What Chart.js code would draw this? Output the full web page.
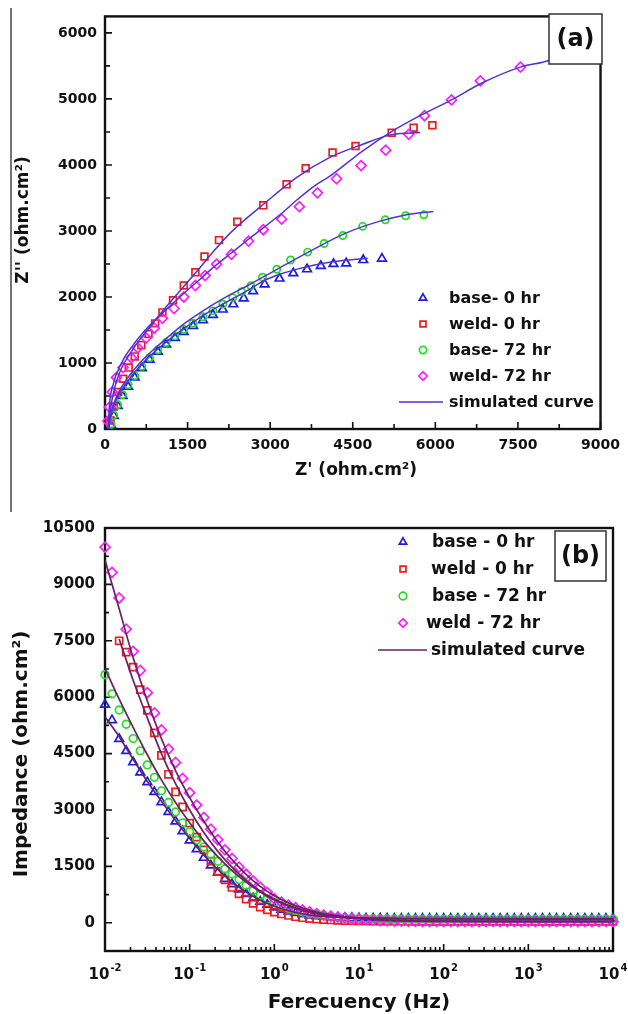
<!DOCTYPE html>
<html>
<head>
<meta charset="utf-8">
<script src="https://cdn.jsdelivr.net/npm/chart.js@4.4.1/dist/chart.umd.min.js"></script>
<style>
  html, body { margin: 0; padding: 0; background: #fff; }
  body { width: 628px; height: 1014px; position: relative; overflow: hidden; }
  canvas { position: absolute; left: 0; }
  #nyq { top: 0; }
  #bode { top: 500px; }
</style>
</head>
<body>
<canvas id="nyq" width="628" height="515"></canvas>
<canvas id="bode" width="628" height="514"></canvas>
<script>
// ---------- (a) Nyquist data: [Z', Z''] in ohm.cm² ----------
const base0Nyquist = [[110,60],[160,200],[230,350],[320,500],[420,640],[540,780],[670,920],[810,1050],[960,1170],[1110,1280],[1270,1380],[1430,1470],[1600,1560],[1780,1650],[1960,1730],[2140,1810],[2330,1890],[2520,1980],[2690,2090],[2900,2190],[3170,2280],[3420,2360],[3670,2420],[3920,2470],[4150,2500],[4380,2510],[4690,2560],[5030,2580]];
const weld0Nyquist = [[100,130],[160,340],[240,560],[330,760],[430,930],[540,1100],[660,1270],[790,1440],[910,1600],[1043,1766],[1235,1951],[1431,2174],[1641,2373],[1807,2612],[2070,2861],[2403,3139],[2875,3388],[3298,3706],[3645,3951],[4133,4189],[4550,4288],[5207,4488],[5606,4563],[5946,4601]];
const base72Nyquist = [[110,70],[160,210],[230,370],[320,520],[420,670],[540,810],[670,950],[810,1080],[960,1200],[1110,1310],[1270,1410],[1430,1510],[1600,1600],[1780,1700],[1960,1790],[2140,1890],[2320,1990],[2480,2080],[2650,2170],[2860,2300],[3120,2420],[3370,2560],[3680,2680],[3980,2810],[4320,2930],[4680,3070],[5090,3170],[5460,3230],[5790,3245]];
const weld72Nyquist = [[50,120],[80,330],[130,560],[209,781],[327,930],[477,1079],[596,1228],[746,1378],[895,1527],[1043,1676],[1252,1825],[1431,2000],[1641,2174],[1819,2324],[2027,2497],[2296,2646],[2607,2846],[2875,3019],[3208,3179],[3530,3368],[3859,3577],[4205,3791],[4652,3990],[5099,4224],[5516,4463],[5803,4746],[6293,4985],[6817,5273],[7545,5482]];

// simulated (fitted) Nyquist curves
const fitBase0Nyquist = [[70,0],[100,180],[200,440],[400,710],[700,1010],[1000,1240],[1400,1500],[1800,1730],[2200,1920],[2594,2100],[2893,2249],[3190,2348],[3489,2422],[3787,2482],[4145,2533],[4772,2587]];
const fitWeld0Nyquist = [[60,0],[90,250],[200,700],[500,1200],[800,1530],[1100,1840],[1400,2130],[1700,2420],[2000,2720],[2300,2990],[2900,3420],[3490,3816],[4085,4114],[4683,4313],[5220,4463],[5725,4490]];
const fitBase72Nyquist = [[70,0],[100,200],[200,470],[400,760],[700,1060],[1000,1290],[1400,1570],[1800,1800],[2200,2000],[2594,2174],[3190,2448],[3787,2721],[4384,2970],[4979,3145],[5457,3243],[5964,3294]];
const fitWeld72Nyquist = [[60,0],[75,300],[140,650],[300,1000],[500,1260],[800,1560],[1100,1800],[1400,2030],[1700,2250],[2000,2470],[2300,2670],[2600,2870],[3200,3260],[3500,3480],[3800,3680],[4085,3830],[4683,4214],[5220,4512],[5757,4761],[6293,4985],[6829,5234],[7545,5482],[7950,5557],[8300,5640]];

// ---------- (b) Bode impedance modulus data ----------
const freqHz = [
  0.01, 0.0121, 0.0147, 0.0178, 0.0215, 0.0261, 0.0316, 0.0383, 0.0464, 0.0562, 0.0681, 0.0825,
  0.1, 0.121, 0.147, 0.178, 0.215, 0.261, 0.316, 0.383, 0.464, 0.562, 0.681, 0.825,
  1, 1.21, 1.47, 1.78, 2.15, 2.61, 3.16, 3.83, 4.64, 5.62, 6.81, 8.25,
  10, 12.1, 14.7, 17.8, 21.5, 26.1, 31.6, 38.3, 46.4, 56.2, 68.1, 82.5,
  100, 121, 147, 178, 215, 261, 316, 383, 464, 562, 681, 825,
  1000, 1210, 1470, 1780, 2150, 2610, 3160, 3830, 4640, 5620, 6810, 8250,
  10000
];
const base0Mod = [
  5800, 5390, 4890, 4570, 4270, 4000, 3740, 3480, 3210, 2950, 2700, 2440,
  2190, 1960, 1730, 1525, 1340, 1170, 1030, 890, 770, 655, 560, 480,
  410, 350, 300, 260, 228, 200, 180, 163, 150, 140, 132, 127,
  123, 119, 116, 114, 113, 112, 111, 111, 110, 110, 110, 110,
  110, 110, 110, 110, 110, 110, 110, 110, 110, 110, 110, 110,
  110, 110, 110, 110, 110, 110, 110, 110, 110, 110, 110, 110,
  110
];
const weld0Mod = [
  null, null, 7500, 7200, 6800, 6200, 5650, 5050, 4450, 3950, 3480, 3080,
  2650, 2280, 1940, 1640, 1370, 1140, 940, 770, 630, 515, 420, 345,
  285, 235, 195, 162, 135, 114, 98, 85, 75, 67, 61, 56,
  52, 49, 47, 45, 44, 43, 42, 42, 41, 41, 40, 40,
  40, 40, 40, 40, 40, 40, 40, 40, 40, 40, 40, 40,
  40, 40, 40, 40, 40, 40, 40, 40, 40, 40, 40, 40,
  40
];
const base72Mod = [
  6600, 6090, 5660, 5280, 4900, 4575, 4200, 3870, 3510, 3200, 2950, 2660,
  2420, 2200, 2015, 1820, 1635, 1440, 1300, 1150, 1000, 860, 740, 630,
  540, 460, 390, 330, 285, 245, 212, 186, 166, 150, 138, 128,
  120, 114, 110, 107, 105, 103, 102, 101, 100, 100, 100, 100,
  100, 100, 100, 100, 100, 100, 100, 100, 100, 100, 100, 100,
  100, 100, 100, 100, 100, 100, 100, 100, 100, 100, 100, 100,
  100
];
const weld72Mod = [
  9990, 9320, 8640, 7810, 7220, 6710, 6120, 5580, 5130, 4620, 4265, 3840,
  3460, 3130, 2800, 2490, 2210, 1940, 1710, 1480, 1290, 1110, 950, 810,
  640, 550, 470, 400, 340, 290, 245, 205, 175, 150, 128, 110,
  95, 82, 71, 62, 55, 49, 44, 40, 37, 35, 33, 32,
  31, 30, 30, 30, 30, 30, 30, 30, 30, 30, 30, 30,
  30, 30, 30, 30, 30, 30, 30, 30, 30, 30, 30, 30,
  30
];

// simulated (fitted) Bode curves
const fitFreqHz = [0.01, 0.0147, 0.0215, 0.0316, 0.0464, 0.0681, 0.1, 0.147, 0.215, 0.316, 0.464, 0.681, 1, 1.47, 2.15, 3.16, 4.64, 6.81, 10, 14.7, 21.5, 31.6, 46.4, 68.1, 100, 1000, 10000];
const fitBase0Mod  = [5480, 4950, 4350, 3760, 3230, 2720, 2240, 1800, 1420, 1090, 820, 600, 440, 320, 240, 185, 155, 137, 127, 120, 116, 113, 112, 111, 110, 110, 110];
const fitWeld0Mod  = [null, 7550, 6450, 5450, 4500, 3700, 3000, 2400, 1900, 1480, 1130, 850, 630, 460, 340, 250, 185, 140, 108, 85, 70, 60, 53, 48, 45, 40, 40];
const fitBase72Mod = [6760, 5950, 5200, 4470, 3800, 3200, 2660, 2180, 1760, 1390, 1080, 820, 610, 450, 330, 245, 190, 155, 133, 120, 112, 107, 104, 102, 101, 100, 100];
const fitWeld72Mod = [9650, 8350, 7050, 5900, 4900, 4050, 3330, 2700, 2150, 1680, 1290, 970, 720, 530, 390, 285, 210, 155, 115, 88, 68, 55, 46, 40, 36, 31, 30];

// ---------- axis ticks and legend texts ----------
const nyqXTicks = [0, 1500, 3000, 4500, 6000, 7500, 9000];
const nyqYTicks = [0, 1000, 2000, 3000, 4000, 5000, 6000];
const bodeXTicks = [0.01, 0.1, 1, 10, 100, 1000, 10000];
const bodeXBase = '10';
const bodeXExponents = ['-2', '-1', '0', '1', '2', '3', '4'];
const bodeYTicks = [0, 1500, 3000, 4500, 6000, 7500, 9000, 10500];
const nyqLegend = ['base- 0 hr', 'weld- 0 hr', 'base- 72 hr', 'weld- 72 hr', 'simulated curve'];
const bodeLegend = ['base - 0 hr', 'weld - 0 hr', 'base - 72 hr', 'weld - 72 hr', 'simulated curve'];

// ---------- styling ----------
const INK = '#111111';
const BLUE = '#1c1ce6';
const RED = '#ec1c1c';
const GREEN = '#1ee01e';
const MAGENTA = '#ff1cff';
const FIT_A = '#5232d2';
const FIT_B = '#6a2165';
const FONT = '"DejaVu Sans", "Liberation Sans", sans-serif';

Chart.defaults.font.family = FONT;
Chart.defaults.font.weight = 'bold';
Chart.defaults.color = INK;

function pairPoints(pairs) { return pairs.map(([x, y]) => ({ x, y })); }
function freqPoints(freqs, vals) {
  return freqs.map((f, i) => ({ x: f, y: vals[i] })).filter(p => p.y !== null);
}
function markerSet(label, points, style, color, radius, order) {
  return {
    label, data: points, showLine: false, order,
    pointStyle: style, pointRadius: radius, pointHoverRadius: radius,
    pointBorderColor: color, borderColor: color,
    pointBackgroundColor: 'rgba(0,0,0,0)', backgroundColor: 'rgba(0,0,0,0)',
    pointBorderWidth: 1.7, clip: false
  };
}
function fitSet(label, points, color, width) {
  return {
    label, data: points, showLine: true, order: 0,
    borderColor: color, borderWidth: width, pointRadius: 0, pointHoverRadius: 0,
    cubicInterpolationMode: 'monotone', fill: false
  };
}

// hollow marker outline, same geometry as the library's point styles
function markerPath(ctx, style, x, y, r) {
  ctx.beginPath();
  if (style === 'circle') {
    ctx.arc(x, y, r, 0, Math.PI * 2);
  } else if (style === 'rect') {
    const s = r * Math.SQRT1_2;
    ctx.rect(x - s, y - s, 2 * s, 2 * s);
  } else if (style === 'rectRot') {
    ctx.moveTo(x - r, y); ctx.lineTo(x, y - r); ctx.lineTo(x + r, y); ctx.lineTo(x, y + r); ctx.closePath();
  } else if (style === 'triangle') {
    let a = 0;
    ctx.moveTo(x + Math.sin(a) * r, y - Math.cos(a) * r);
    a += 2 * Math.PI / 3; ctx.lineTo(x + Math.sin(a) * r, y - Math.cos(a) * r);
    a += 2 * Math.PI / 3; ctx.lineTo(x + Math.sin(a) * r, y - Math.cos(a) * r);
    ctx.closePath();
  }
}

function axisDecor(opts) {
  return {
    id: 'axisDecor',
    beforeDatasetsDraw(chart) {
      const { ctx, chartArea: a, scales: { x, y } } = chart;
      ctx.save();
      ctx.strokeStyle = INK;
      ctx.lineWidth = 1.6;
      ctx.beginPath();
      for (const v of opts.xMajor) { const p = x.getPixelForValue(v); ctx.moveTo(p, a.bottom); ctx.lineTo(p, a.bottom - opts.majorLen); }
      for (const v of opts.xMinor) { const p = x.getPixelForValue(v); ctx.moveTo(p, a.bottom); ctx.lineTo(p, a.bottom - opts.minorLen); }
      for (const v of opts.yMajor) { const p = y.getPixelForValue(v); ctx.moveTo(a.left, p); ctx.lineTo(a.left + opts.majorLen, p); }
      for (const v of opts.yMinor) { const p = y.getPixelForValue(v); ctx.moveTo(a.left, p); ctx.lineTo(a.left + opts.minorLen, p); }
      ctx.stroke();
      ctx.lineWidth = 2.4;
      ctx.strokeRect(a.left, a.top, a.right - a.left, a.bottom - a.top);
      if (opts.sideRule) {
        ctx.strokeStyle = '#3a3a3a';
        ctx.lineWidth = 1.4;
        ctx.beginPath();
        ctx.moveTo(opts.sideRule.x, opts.sideRule.y0);
        ctx.lineTo(opts.sideRule.x, opts.sideRule.y1);
        ctx.stroke();
      }
      ctx.restore();
    },
    afterDraw(chart) {
      const { ctx, chartArea: a, scales: { x } } = chart;
      ctx.save();
      ctx.fillStyle = INK;
      // power-of-ten tick labels with raised exponents
      if (opts.powerLabels) {
        const pl = opts.powerLabels;
        ctx.textBaseline = 'alphabetic';
        ctx.textAlign = 'left';
        pl.values.forEach((v, i) => {
          const px = x.getPixelForValue(v);
          ctx.font = 'bold ' + pl.baseSize + 'px ' + FONT;
          const wb = ctx.measureText(pl.base).width;
          ctx.font = 'bold ' + pl.expSize + 'px ' + FONT;
          const we = ctx.measureText(pl.exps[i]).width;
          const x0 = px - (wb + we + 1) / 2;
          const baseY = a.bottom + pl.offset;
          ctx.font = 'bold ' + pl.baseSize + 'px ' + FONT;
          ctx.fillText(pl.base, x0, baseY);
          ctx.font = 'bold ' + pl.expSize + 'px ' + FONT;
          ctx.fillText(pl.exps[i], x0 + wb + 1, baseY - pl.raise);
        });
      }
      ctx.textAlign = 'center';
      ctx.textBaseline = 'middle';
      ctx.font = 'bold ' + opts.titleSize + 'px ' + FONT;
      ctx.fillText(opts.xTitle.text, opts.xTitle.x, opts.xTitle.y);
      ctx.translate(opts.yTitle.x, opts.yTitle.y);
      ctx.rotate(-Math.PI / 2);
      ctx.fillText(opts.yTitle.text, 0, 0);
      ctx.restore();
    }
  };
}

function legendDecor(opts) {
  return {
    id: 'legendDecor',
    afterDatasetsDraw(chart) {
      const { ctx } = chart;
      const sets = chart.data.datasets;
      const markers = sets.filter(d => !d.showLine);
      const fit = sets.find(d => d.showLine);
      ctx.save();
      ctx.font = 'bold ' + opts.fontSize + 'px ' + FONT;
      ctx.textBaseline = 'middle';
      ctx.textAlign = 'left';
      markers.forEach((d, i) => {
        const y = opts.rows[i];
        ctx.strokeStyle = d.pointBorderColor;
        ctx.lineWidth = 1.7;
        markerPath(ctx, d.pointStyle, opts.markerX, y, Math.min(d.pointRadius, 4.2));
        ctx.stroke();
        ctx.fillStyle = INK;
        ctx.fillText(opts.labels[i], opts.textX[i], y + 1);
      });
      const ly = opts.rows[markers.length];
      ctx.strokeStyle = fit.borderColor;
      ctx.lineWidth = fit.borderWidth;
      ctx.beginPath();
      ctx.moveTo(opts.lineX0, ly);
      ctx.lineTo(opts.lineX1, ly);
      ctx.stroke();
      ctx.fillStyle = INK;
      ctx.fillText(opts.labels[markers.length], opts.textX[markers.length], ly + 1);

      // panel tag
      const t = opts.tag;
      ctx.fillStyle = '#ffffff';
      ctx.fillRect(t.x, t.y, t.w, t.h);
      ctx.strokeStyle = '#333333';
      ctx.lineWidth = 1.5;
      ctx.strokeRect(t.x, t.y, t.w, t.h);
      ctx.fillStyle = INK;
      ctx.font = 'bold ' + t.size + 'px ' + FONT;
      ctx.textAlign = 'center';
      ctx.fillText(t.text, t.x + t.w / 2, t.y + t.h / 2 + 1);
      ctx.restore();
    }
  };
}

function midpoints(vals) { return vals.slice(1).map((v, i) => (v + vals[i]) / 2); }
function logMinors(decades) {
  const out = [];
  decades.slice(0, -1).forEach(d => { for (let m = 2; m <= 9; m++) out.push(d * m); });
  return out;
}

// ---------- (a) Nyquist plot ----------
new Chart(document.getElementById('nyq'), {
  type: 'scatter',
  data: {
    datasets: [
      markerSet(nyqLegend[0], pairPoints(base0Nyquist), 'triangle', BLUE, 5, 4),
      markerSet(nyqLegend[1], pairPoints(weld0Nyquist), 'rect', RED, 4.8, 3),
      markerSet(nyqLegend[2], pairPoints(base72Nyquist), 'circle', GREEN, 3.6, 2),
      markerSet(nyqLegend[3], pairPoints(weld72Nyquist), 'rectRot', MAGENTA, 5, 1),
      fitSet(nyqLegend[4], pairPoints(fitBase0Nyquist), FIT_A, 1.5),
      fitSet(nyqLegend[4], pairPoints(fitWeld0Nyquist), FIT_A, 1.5),
      fitSet(nyqLegend[4], pairPoints(fitBase72Nyquist), FIT_A, 1.5),
      fitSet(nyqLegend[4], pairPoints(fitWeld72Nyquist), FIT_A, 1.5)
    ]
  },
  options: {
    responsive: false, animation: false, devicePixelRatio: 1,
    layout: { padding: { left: 0, right: 20, top: 10, bottom: 0 } },
    plugins: { legend: { display: false }, tooltip: { enabled: false } },
    scales: {
      x: {
        type: 'linear', min: 0, max: 9000,
        afterBuildTicks: s => { s.ticks = nyqXTicks.map(v => ({ value: v })); },
        afterFit: s => { s.height = 86; },
        grid: { display: false, drawTicks: false }, border: { display: false },
        ticks: { callback: v => String(v), color: INK, font: { size: 14, weight: 'bold' }, padding: 8, maxRotation: 0, autoSkip: false }
      },
      y: {
        type: 'linear', min: 0, max: 6250,
        afterBuildTicks: s => { s.ticks = nyqYTicks.map(v => ({ value: v })); },
        afterFit: s => { s.width = 105; },
        grid: { display: false, drawTicks: false }, border: { display: false },
        ticks: { callback: v => String(v), color: INK, font: { size: 14, weight: 'bold' }, padding: 8, autoSkip: false }
      }
    }
  },
  plugins: [
    axisDecor({
      xMajor: nyqXTicks, xMinor: midpoints(nyqXTicks),
      yMajor: nyqYTicks, yMinor: midpoints(nyqYTicks),
      majorLen: 7, minorLen: 5,
      titleSize: 17,
      xTitle: { text: "Z' (ohm.cm\u00B2)", x: 356, y: 471 },
      yTitle: { text: "Z'' (ohm.cm\u00B2)", x: 24, y: 220 },
      sideRule: { x: 11, y0: 8, y1: 512 }
    }),
    legendDecor({
      labels: nyqLegend, fontSize: 16,
      rows: [298, 324, 350, 376, 402],
      markerX: 423, textX: [449, 449, 449, 449, 449],
      lineX0: 399, lineX1: 443,
      tag: { text: '(a)', x: 549, y: 14, w: 53, h: 50, size: 24 }
    })
  ]
});

// ---------- (b) Bode impedance plot ----------
new Chart(document.getElementById('bode'), {
  type: 'scatter',
  data: {
    datasets: [
      markerSet(bodeLegend[0], freqPoints(freqHz, base0Mod), 'triangle', BLUE, 5, 4),
      markerSet(bodeLegend[1], freqPoints(freqHz, weld0Mod), 'rect', RED, 5, 3),
      markerSet(bodeLegend[2], freqPoints(freqHz, base72Mod), 'circle', GREEN, 3.8, 2),
      markerSet(bodeLegend[3], freqPoints(freqHz, weld72Mod), 'rectRot', MAGENTA, 5, 1),
      fitSet(bodeLegend[4], freqPoints(fitFreqHz, fitBase0Mod), FIT_B, 1.7),
      fitSet(bodeLegend[4], freqPoints(fitFreqHz, fitWeld0Mod), FIT_B, 1.7),
      fitSet(bodeLegend[4], freqPoints(fitFreqHz, fitBase72Mod), FIT_B, 1.7),
      fitSet(bodeLegend[4], freqPoints(fitFreqHz, fitWeld72Mod), FIT_B, 1.7)
    ]
  },
  options: {
    responsive: false, animation: false, devicePixelRatio: 1,
    layout: { padding: { left: 0, right: 15, top: 28, bottom: 0 } },
    plugins: { legend: { display: false }, tooltip: { enabled: false } },
    scales: {
      x: {
        type: 'logarithmic', min: 0.01, max: 10000,
        afterBuildTicks: s => { s.ticks = bodeXTicks.map(v => ({ value: v })); },
        afterFit: s => { s.height = 63; },
        grid: { display: false, drawTicks: false }, border: { display: false },
        ticks: { display: false }
      },
      y: {
        type: 'linear', min: -750, max: 10500,
        afterBuildTicks: s => { s.ticks = bodeYTicks.map(v => ({ value: v })); },
        afterFit: s => { s.width = 105; },
        grid: { display: false, drawTicks: false }, border: { display: false },
        ticks: { callback: v => String(v), color: INK, font: { size: 15, weight: 'bold' }, padding: 10, autoSkip: false }
      }
    }
  },
  plugins: [
    axisDecor({
      xMajor: bodeXTicks, xMinor: logMinors(bodeXTicks),
      yMajor: bodeYTicks, yMinor: [-750].concat(midpoints(bodeYTicks)),
      majorLen: 7, minorLen: 4,
      titleSize: 20,
      xTitle: { text: 'Ferecuency (Hz)', x: 359, y: 503 },
      yTitle: { text: 'Impedance (ohm.cm\u00B2)', x: 22, y: 254 },
      powerLabels: { values: bodeXTicks, base: bodeXBase, exps: bodeXExponents, baseSize: 15, expSize: 10, offset: 28, raise: 8 }
    }),
    legendDecor({
      labels: bodeLegend, fontSize: 17,
      rows: [42, 69, 96, 123, 150],
      markerX: 403, textX: [432, 431, 432, 426, 431],
      lineX0: 378, lineX1: 427,
      tag: { text: '(b)', x: 555, y: 31, w: 51, h: 50, size: 24 }
    })
  ]
});
</script>
</body>
</html>
